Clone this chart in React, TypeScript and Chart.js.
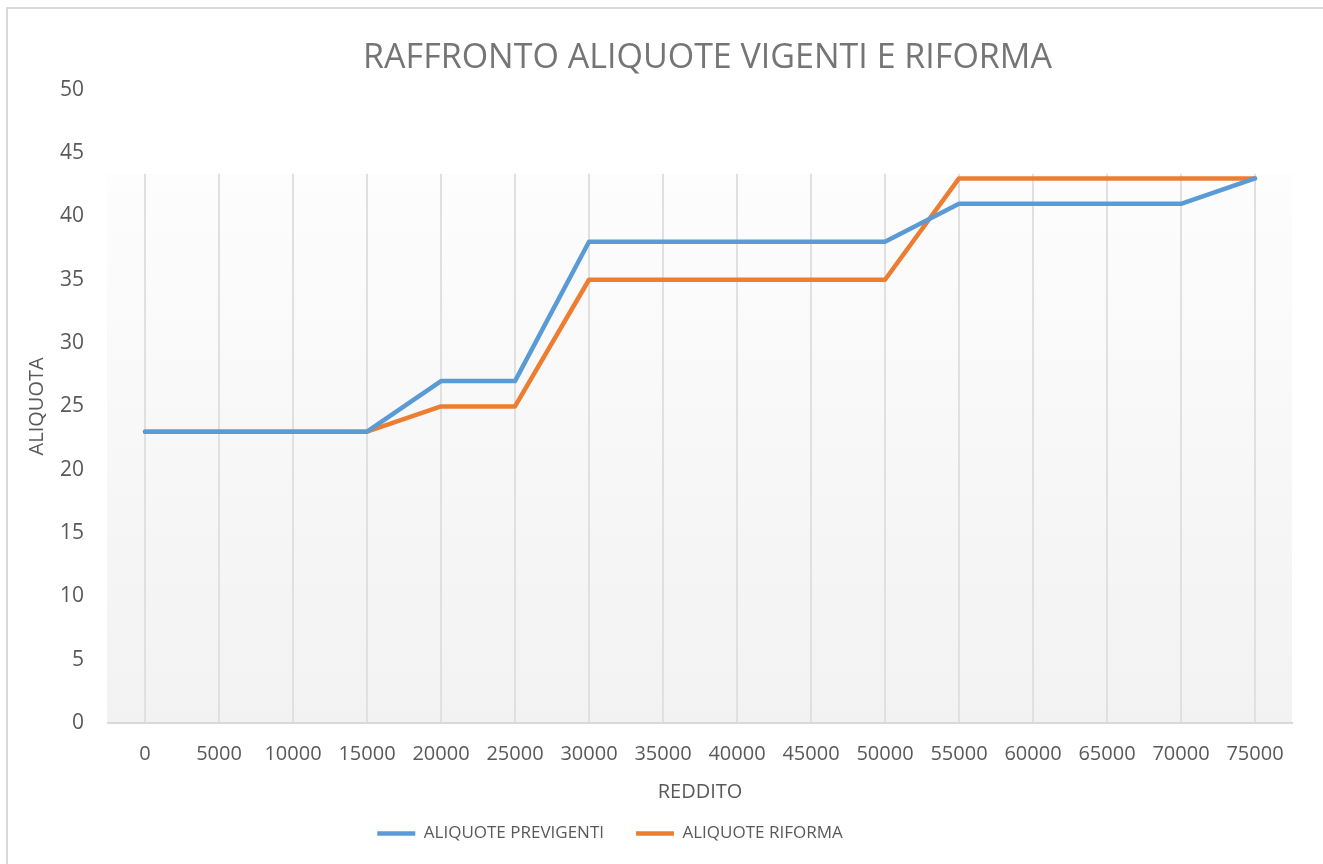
import React, { useEffect, useRef } from "react";
import { Chart, registerables } from "chart.js";

Chart.register(...registerables);

const categories = ["0", "5000", "10000", "15000", "20000", "25000", "30000", "35000", "40000", "45000", "50000", "55000", "60000", "65000", "70000", "75000"];
const previgenti = [23, 23, 23, 23, 27, 27, 38, 38, 38, 38, 38, 41, 41, 41, 41, 43];
const riforma = [23, 23, 23, 23, 25, 25, 35, 35, 35, 35, 35, 43, 43, 43, 43, 43];
const seriesNames = ["ALIQUOTE PREVIGENTI", "ALIQUOTE RIFORMA"];
const titleText = "RAFFRONTO ALIQUOTE VIGENTI E RIFORMA";
const xTitle = "REDDITO";
const yTitle = "ALIQUOTA";
const yMin = 0;
const yMax = 50;
const yStep = 5;

const FONT = "'Open Sans', 'DejaVu Sans', sans-serif";

const decorPlugin = {
  id: "decor",
  afterLayout(chart: any) {
    const t = chart.titleBlock;
    const ca = chart.chartArea;
    if (t && ca) {
      t.left = ca.left;
      t.right = ca.right + 15;
      t.width = t.right - t.left;
    }
    const lg = chart.legend;
    if (lg) {
      lg.left -= 36;
      lg.right -= 36;
    }
  },
  beforeDraw(chart: any) {
    const { ctx, chartArea: ca } = chart;
    ctx.save();
    ctx.fillStyle = "#ffffff";
    ctx.fillRect(0, 0, chart.width, chart.height);
    ctx.strokeStyle = "#d9d9d9";
    ctx.lineWidth = 2;
    ctx.strokeRect(7, 8, chart.width + 20, chart.height + 20);
    const gTop = ca.top + 84;
    const g = ctx.createLinearGradient(0, gTop, 0, ca.bottom);
    g.addColorStop(0, "#fdfdfd");
    g.addColorStop(1, "#f2f2f2");
    ctx.fillStyle = g;
    ctx.fillRect(ca.left - 1, gTop, ca.right - ca.left + 1, ca.bottom - gTop);
    ctx.restore();
  },
  beforeDatasetsDraw(chart: any) {
    const { ctx, chartArea: ca } = chart;
    const gTop = ca.top + 84;
    ctx.save();
    ctx.fillStyle = "#ffffff";
    ctx.fillRect(ca.left - 3, ca.top - 3, ca.right - ca.left + 6, gTop - ca.top + 3);
    ctx.restore();
  },
};

export default function App() {
  const ref = useRef<HTMLCanvasElement | null>(null);

  useEffect(() => {
    if (!ref.current) return;
    const chart = new Chart(ref.current, {
      type: "line",
      data: {
        labels: categories,
        datasets: [
          {
            label: seriesNames[0],
            data: previgenti,
            borderColor: "#5b9bd5",
            backgroundColor: "#5b9bd5",
            borderWidth: 4.5,
            borderCapStyle: "round",
            borderJoinStyle: "round",
            pointRadius: 0,
            pointHoverRadius: 0,
            tension: 0,
            pointStyle: "line",
          },
          {
            label: seriesNames[1],
            data: riforma,
            borderColor: "#ed7d31",
            backgroundColor: "#ed7d31",
            borderWidth: 4.5,
            borderCapStyle: "round",
            borderJoinStyle: "round",
            pointRadius: 0,
            pointHoverRadius: 0,
            tension: 0,
            pointStyle: "line",
          },
        ],
      },
      options: {
        responsive: false,
        animation: false,
        layout: { padding: { left: 0, right: 31, top: 0, bottom: 12 } },
        plugins: {
          tooltip: { enabled: false },
          title: {
            display: true,
            text: titleText,
            color: "#757575",
            font: { family: FONT, size: 34, weight: "normal" },
            padding: { top: 38, bottom: 11 },
          },
          legend: {
            display: true,
            position: "bottom",
            labels: {
              usePointStyle: true,
              pointStyleWidth: 38,
              padding: 32,
              color: "#595959",
              font: { family: FONT, size: 17 },
            },
          },
        },
        scales: {
          x: {
            type: "category",
            offset: true,
            grid: {
              display: true,
              color: "#e0e0e0",
              lineWidth: 2,
              drawTicks: false,
              offset: false,
            },
            border: { display: true, color: "#d9d9d9", width: 2 },
            ticks: {
              color: "#595959",
              font: { family: FONT, size: 20 },
              padding: 19,
              maxRotation: 0,
              autoSkip: false,
            },
            title: {
              display: true,
              text: xTitle,
              color: "#595959",
              font: { family: FONT, size: 20 },
              padding: { top: 0, bottom: -11 },
            },
            afterFit(scale: any) {
              scale.height = 70;
            },
          },
          y: {
            min: yMin,
            max: yMax,
            grid: { display: false, drawTicks: false },
            border: { display: false },
            ticks: {
              stepSize: yStep,
              color: "#595959",
              font: { family: FONT, size: 21 },
              padding: 24,
            },
            title: {
              display: true,
              text: yTitle,
              color: "#595959",
              font: { family: FONT, size: 20 },
              padding: { top: 25, bottom: 0 },
            },
            afterFit(scale: any) {
              scale.width = 108;
            },
          },
        },
      },
      plugins: [decorPlugin],
    } as any);
    return () => chart.destroy();
  }, []);

  return (
    <div style={{ position: "fixed", left: 0, top: 0, width: 1323, height: 864, background: "#fff" }}>
      <canvas ref={ref} width={1323} height={864} style={{ display: "block", width: 1323, height: 864 }} />
    </div>
  );
}
